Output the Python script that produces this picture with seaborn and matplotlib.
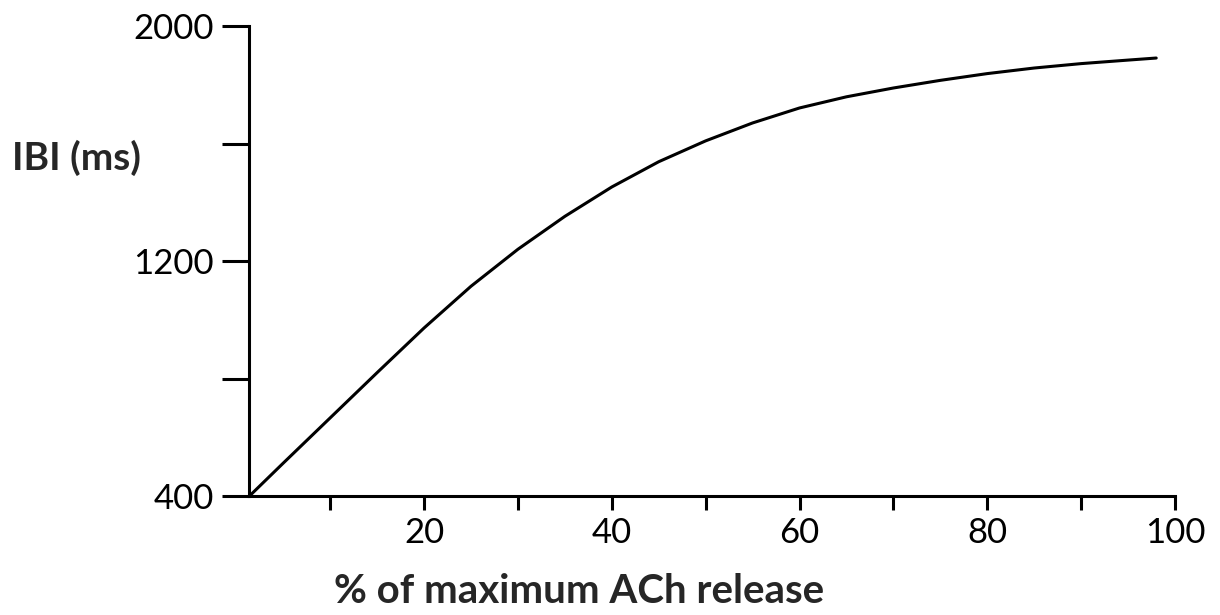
import matplotlib
matplotlib.use("Agg")
import matplotlib.pyplot as plt
import seaborn as sns
import pandas as pd

# Inter-beat interval as a function of acetylcholine release
ach_release = [1.4, 5, 10, 15, 20, 25, 30, 35, 40, 45, 50, 55, 60, 65, 70, 75, 80, 85, 90, 95, 98]
ibi_ms = [400, 512, 666, 820, 972, 1114, 1240, 1352, 1452, 1538, 1609, 1670, 1721, 1759, 1789,
          1815, 1838, 1857, 1872, 1884, 1891]

x_ticks = [10, 20, 30, 40, 50, 60, 70, 80, 90, 100]
x_tick_labels = ["", "20", "", "40", "", "60", "", "80", "", "100"]
y_ticks = [400, 800, 1200, 1600, 2000]
y_tick_labels = ["400", "", "1200", "", "2000"]

df = pd.DataFrame({"release": ach_release, "ibi": ibi_ms})

sns.set_style("ticks")
plt.rcParams["font.family"] = ["Lato", "DejaVu Sans"]

fig = plt.figure(figsize=(12.2, 6.15), dpi=100)
ax = fig.add_axes([0.2041, 0.1935, 0.7590, 0.7642])

sns.lineplot(data=df, x="release", y="ibi", ax=ax, color="black", linewidth=2.2)

ax.set_xlim(1.35, 100)
ax.set_ylim(400, 2000)
ax.set_xticks(x_ticks)
ax.set_xticklabels(x_tick_labels)
ax.set_yticks(y_ticks)
ax.set_yticklabels(y_tick_labels)

for side in ["top", "right"]:
    ax.spines[side].set_visible(False)
for side in ["left", "bottom"]:
    ax.spines[side].set_linewidth(2.2)
    ax.spines[side].set_color("black")
    ax.spines[side].set_capstyle("projecting")

ax.tick_params(axis="y", direction="out", length=19.5, width=2.2, pad=6,
               labelsize=25, colors="black")
ax.tick_params(axis="x", direction="out", length=10, width=2.2, pad=5,
               labelsize=25, colors="black")

ax.set_xlabel("")
ax.set_ylabel("")

fig.text(0.010, 0.743, "IBI (ms)", fontsize=28, fontweight="bold", ha="left", va="center")
fig.text(0.475, 0.038, "% of maximum ACh release", fontsize=29, fontweight="bold",
         ha="center", va="center")

fig.savefig("out.png", dpi=100, facecolor="white")
